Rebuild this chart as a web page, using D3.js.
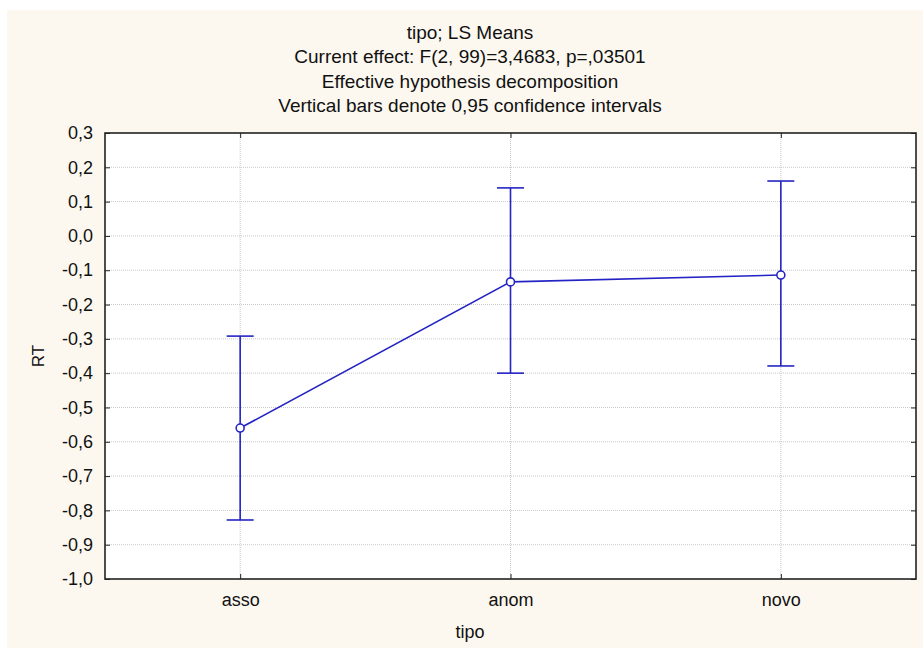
<!DOCTYPE html>
<html>
<head>
<meta charset="utf-8">
<script src="https://cdn.jsdelivr.net/npm/d3@7"></script>
<style>
  body { margin: 0; background: #fff; }
  svg { display: block; font-family: Arial, "Liberation Sans", sans-serif; }
</style>
</head>
<body>
<div id="chart"></div>
<script>
// Data
const categories = ["asso", "anom", "novo"];
const means = [-0.56, -0.134, -0.114];
const upper = [-0.292, 0.14, 0.16];
const lower = [-0.828, -0.40, -0.379];
const yTicks = [0.3, 0.2, 0.1, 0.0, -0.1, -0.2, -0.3, -0.4, -0.5, -0.6, -0.7, -0.8, -0.9, -1.0];
const titleLines = [
    "tipo; LS Means",
    "Current effect: F(2, 99)=3,4683, p=,03501",
    "Effective hypothesis decomposition",
    "Vertical bars denote 0,95 confidence intervals"
];

const width = 923, height = 650;
const plot = { left: 105, top: 133, right: 916, bottom: 579 };
const blue = "#2424c4";
const font = "Arial, 'Liberation Sans', sans-serif";

const svg = d3.select("#chart")
    .append("svg")
    .attr("width", width)
    .attr("height", height);

// panel background
svg.append("rect")
    .attr("x", 7).attr("y", 10)
    .attr("width", width - 7).attr("height", 638)
    .attr("fill", "#fcf8f0");

svg.append("rect")
    .attr("x", plot.left).attr("y", plot.top)
    .attr("width", plot.right - plot.left).attr("height", plot.bottom - plot.top)
    .attr("fill", "#fff");

const x = d3.scalePoint()
    .domain(categories)
    .range([plot.left, plot.right])
    .padding(0.5);

const y = d3.scaleLinear()
    .domain([-1.0, 0.3])
    .range([plot.bottom, plot.top]);

const fmt = v => d3.format(".1f")(v).replace(".", ",").replace("−", "-");

// grid lines
svg.append("g")
    .selectAll("line")
    .data(yTicks.filter(d => d < 0.3 && d > -1.0))
    .join("line")
    .attr("x1", plot.left).attr("x2", plot.right)
    .attr("y1", d => y(d)).attr("y2", d => y(d))
    .attr("stroke", "#c8c8c8")
    .attr("stroke-width", 1)
    .attr("stroke-dasharray", "1,1");

svg.append("g")
    .selectAll("line")
    .data(categories)
    .join("line")
    .attr("x1", d => x(d)).attr("x2", d => x(d))
    .attr("y1", plot.top).attr("y2", plot.bottom)
    .attr("stroke", "#c8c8c8")
    .attr("stroke-width", 1)
    .attr("stroke-dasharray", "1,1");

// axes (ticks pointing inward)
const leftAxis = svg.append("g")
    .attr("transform", `translate(${plot.left},0)`)
    .call(d3.axisLeft(y).tickValues(yTicks).tickSize(-5).tickPadding(12).tickFormat(fmt));
leftAxis.select(".domain").remove();
leftAxis.selectAll("text").attr("font-size", 18).attr("fill", "#111").attr("font-family", font);
leftAxis.selectAll("line").attr("stroke", "#222");

const rightAxis = svg.append("g")
    .attr("transform", `translate(${plot.right},0)`)
    .call(d3.axisRight(y).tickValues(yTicks).tickSize(-5).tickFormat(""));
rightAxis.select(".domain").remove();
rightAxis.selectAll("line").attr("stroke", "#222");

const bottomAxis = svg.append("g")
    .attr("transform", `translate(0,${plot.bottom})`)
    .call(d3.axisBottom(x).tickSize(-5).tickPadding(14));
bottomAxis.select(".domain").remove();
bottomAxis.selectAll("text").attr("font-size", 18).attr("fill", "#111").attr("font-family", font);
bottomAxis.selectAll("line").attr("stroke", "#222");

const topAxis = svg.append("g")
    .attr("transform", `translate(0,${plot.top})`)
    .call(d3.axisTop(x).tickSize(-5).tickFormat(""));
topAxis.select(".domain").remove();
topAxis.selectAll("line").attr("stroke", "#222");

// frame
svg.append("rect")
    .attr("x", plot.left).attr("y", plot.top)
    .attr("width", plot.right - plot.left).attr("height", plot.bottom - plot.top)
    .attr("fill", "none")
    .attr("stroke", "#222")
    .attr("stroke-width", 1.6);

// error bars
const bars = svg.append("g").attr("stroke", blue).attr("stroke-width", 1.6);
categories.forEach((c, i) => {
    bars.append("line")
        .attr("x1", x(c)).attr("x2", x(c))
        .attr("y1", y(upper[i])).attr("y2", y(lower[i]));
    [upper[i], lower[i]].forEach(v => {
        bars.append("line")
            .attr("x1", x(c) - 13.5).attr("x2", x(c) + 13.5)
            .attr("y1", y(v)).attr("y2", y(v));
    });
});

// mean line
svg.append("path")
    .datum(categories.map((c, i) => [x(c), y(means[i])]))
    .attr("fill", "none")
    .attr("stroke", blue)
    .attr("stroke-width", 1.6)
    .attr("d", d3.line());

svg.append("g")
    .selectAll("circle")
    .data(categories)
    .join("circle")
    .attr("cx", d => x(d))
    .attr("cy", (d, i) => y(means[i]))
    .attr("r", 4)
    .attr("fill", "#fff")
    .attr("stroke", blue)
    .attr("stroke-width", 1.6);

// titles
svg.append("g")
    .selectAll("text")
    .data(titleLines)
    .join("text")
    .attr("x", 470)
    .attr("y", (d, i) => 39 + i * 24.3)
    .attr("text-anchor", "middle")
    .attr("font-size", 19)
    .attr("fill", "#111")
    .text(d => d);

svg.append("text")
    .attr("x", 470)
    .attr("y", 638)
    .attr("text-anchor", "middle")
    .attr("font-size", 18)
    .attr("fill", "#111")
    .text("tipo");

svg.append("text")
    .attr("transform", "translate(44,356) rotate(-90)")
    .attr("text-anchor", "middle")
    .attr("font-size", 17)
    .attr("fill", "#111")
    .text("RT");
</script>
</body>
</html>
